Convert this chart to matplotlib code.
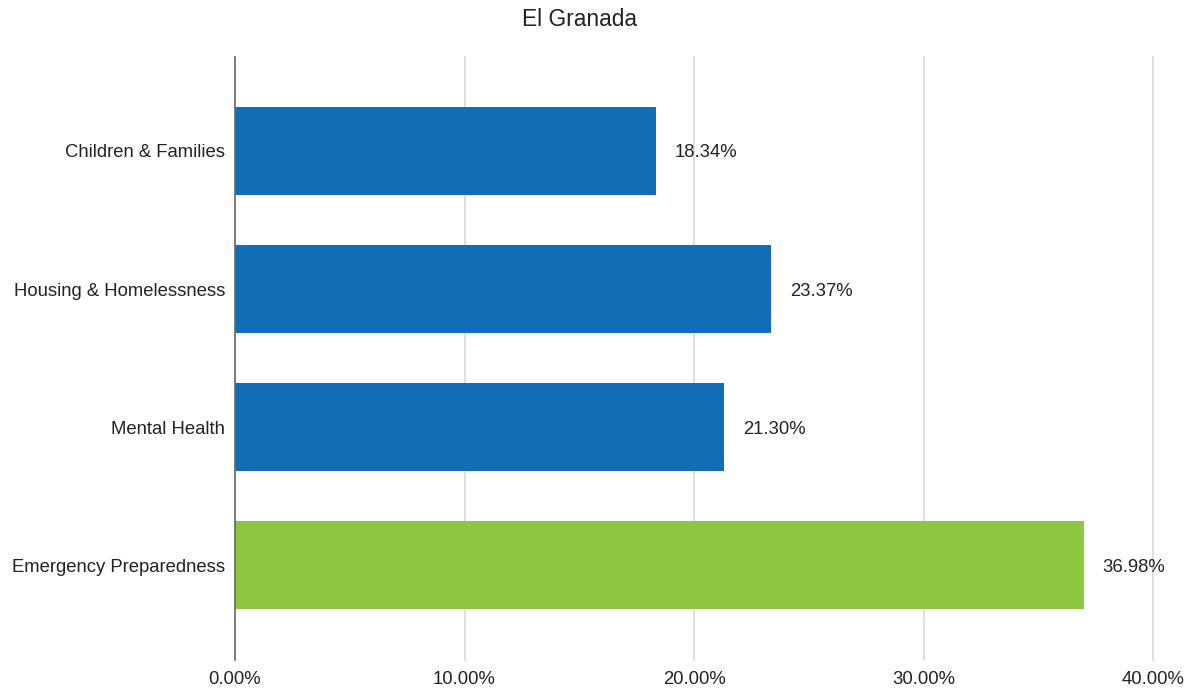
import matplotlib
matplotlib.use("Agg")
import matplotlib.pyplot as plt

plt.rcParams['font.family'] = ['Liberation Sans', 'DejaVu Sans']

title = "El Granada"
categories = ["Children & Families", "Housing & Homelessness", "Mental Health", "Emergency Preparedness"]
values = [18.34, 23.37, 21.30, 36.98]
colors = ["#116DB6", "#116DB6", "#116DB6", "#8DC63F"]
xticks = [0, 10, 20, 30, 40]

fig = plt.figure(figsize=(11.91, 6.89), dpi=100)
ax = fig.add_axes([235/1191, 1-660/689, 918/1191, 603/689])

ypos = list(range(len(categories)))
bars = ax.barh(ypos, values, height=0.638, color=colors, zorder=3)

ax.set_xlim(0, 40)
ax.set_ylim(3.688, -0.681)
ax.set_yticks(ypos)
ax.set_yticklabels(categories, fontsize=13.3, color="#222222")
ax.set_xticks(xticks)
ax.set_xticklabels([f"{t:.2f}%" for t in xticks], fontsize=13.3, color="#222222")
ax.tick_params(axis='both', length=0)
ax.tick_params(axis='y', pad=7)
ax.tick_params(axis='x', pad=8)
ax.grid(False)
for t in xticks[1:]:
    ax.axvline(t, color="#d9d9d9", linewidth=1.2, zorder=0, clip_on=False)
for s in ["top", "right", "bottom"]:
    ax.spines[s].set_visible(False)
ax.spines["left"].set_color("#666666")
ax.spines["left"].set_linewidth(1.2)
ax.spines["left"].set_zorder(4)

for b, v in zip(bars, values):
    ax.annotate(f"{v:.2f}%", xy=(v, b.get_y() + b.get_height()/2), xytext=(19, -2),
                textcoords="offset pixels", va="center", ha="left", fontsize=13.3,
                color="#222222", zorder=5)

fig.text(579/1191, 1-19/689, title, ha="center", va="center", fontsize=16.4, color="#222222")

fig.savefig("out.png", dpi=100, facecolor="white")
